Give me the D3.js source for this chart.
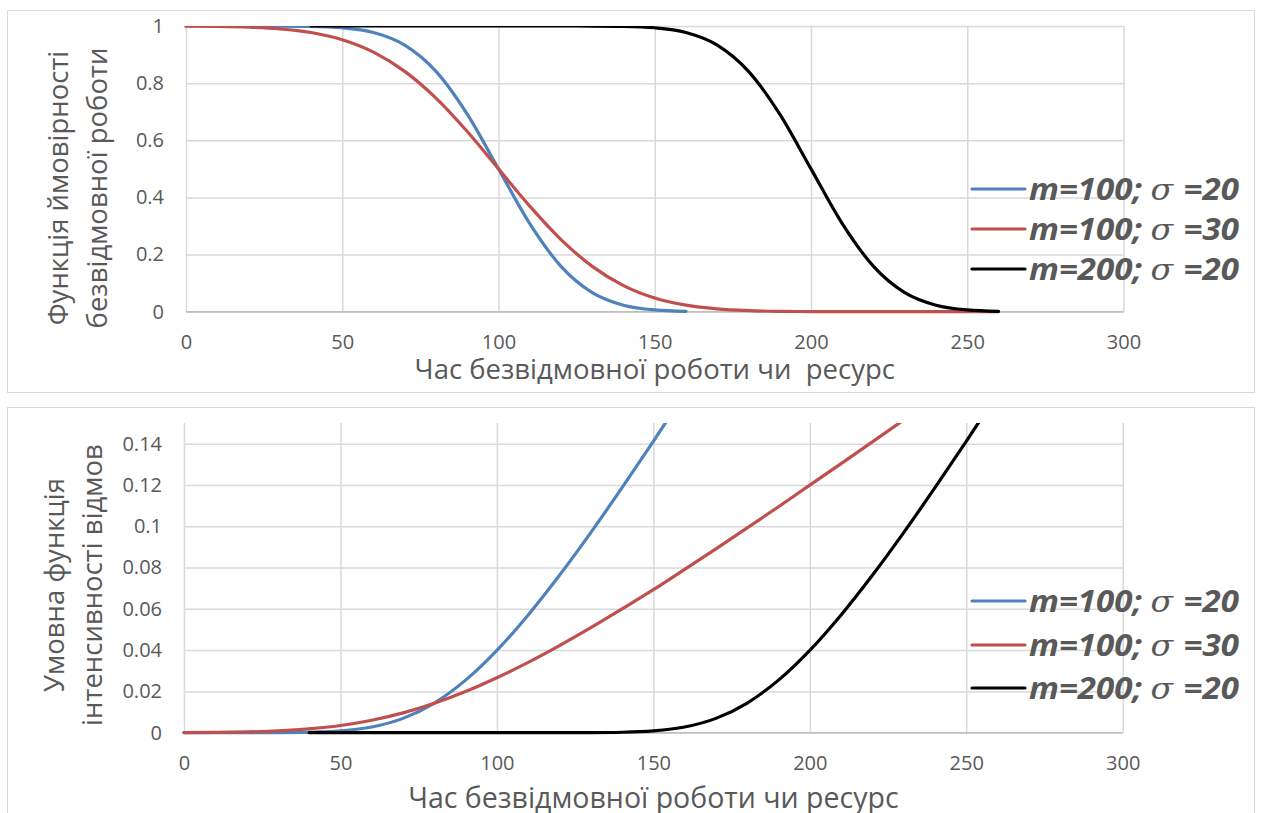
<!DOCTYPE html>
<html>
<head>
<meta charset="utf-8">
<script src="https://cdn.jsdelivr.net/npm/d3@7"></script>
<style>
  body { margin: 0; background: #fff; }
  svg { display: block; font-family: 'Open Sans', sans-serif; }
</style>
</head>
<body>
<svg id="chart" width="1261" height="813"></svg>
<script>
// x values (time) for each series
const timeBlue = [0, 10, 20, 30, 40, 50, 60, 70, 80, 90, 100, 110, 120, 130, 140, 150, 160]
const timeRed = [0, 10, 20, 30, 40, 50, 60, 70, 80, 90, 100, 110, 120, 130, 140, 150, 160, 170, 180, 190, 200, 210, 220, 230, 240, 250, 260]
const timeBlack = [40, 50, 60, 70, 80, 90, 100, 110, 120, 130, 140, 150, 160, 170, 180, 190, 200, 210, 220, 230, 240, 250, 260]

// top chart: reliability function
const relBlue = [1, 1, 1, 0.9998, 0.9987, 0.9938, 0.9773, 0.9332, 0.8413, 0.6915, 0.5, 0.3085, 0.1587, 0.0668, 0.0228, 0.0062, 0.0013]
const relRed = [0.9996, 0.9987, 0.9962, 0.9902, 0.9773, 0.9522, 0.9088, 0.8413, 0.7475, 0.6306, 0.5, 0.3694, 0.2525, 0.1587, 0.0912, 0.0478, 0.0228, 0.0098, 0.0038, 0.0013, 0.0004, 0.0001, 0, 0, 0, 0, 0]
const relBlack = [1, 1, 1, 1, 1, 1, 1, 1, 1, 0.9998, 0.9987, 0.9938, 0.9773, 0.9332, 0.8413, 0.6915, 0.5, 0.3085, 0.1587, 0.0668, 0.0228, 0.0062, 0.0013]

// bottom chart: failure rate
const hazBlue = [0, 0, 0.00001, 0.00004, 0.00022, 0.00088, 0.00276, 0.00694, 0.01438, 0.02546, 0.03989, 0.05705, 0.07625, 0.09693, 0.11866, 0.14113, 0.16415]
const hazRed = [0.00005, 0.00015, 0.00038, 0.00088, 0.00184, 0.00348, 0.00602, 0.00959, 0.01425, 0.01995, 0.0266, 0.03405, 0.04217, 0.05084, 0.05994, 0.06926, 0.07911, 0.08905, 0.09917, 0.10943, 0.11989, 0.1303, 0.14085, 0.15147, 0.16216, 0.1729, 0.1836]
const hazBlack = [0, 0, 0, 0, 0, 0, 0, 0, 0.00001, 0.00004, 0.00022, 0.00088, 0.00276, 0.00694, 0.01438, 0.02546, 0.03989, 0.05705, 0.07625, 0.09693, 0.11866, 0.14113, 0.16415]

const xTicks = [0, 50, 100, 150, 200, 250, 300]
const relTicks = [0, 0.2, 0.4, 0.6, 0.8, 1]
const hazTicks = [0, 0.02, 0.04, 0.06, 0.08, 0.1, 0.12, 0.14]
const legendLabels = ['m=100; σ=20', 'm=100; σ=30', 'm=200; σ=20']
const colors = ['#4f81bd', '#c0504d', '#000000']

const svg = d3.select('#chart')
const textColor = '#595959'
const gridColor = '#d9d9d9'

function drawPanel(p) {
  const g = svg.append('g')

  // panel border
  g.append('rect')
    .attr('x', 7.5).attr('y', p.top + 0.5)
    .attr('width', 1247).attr('height', p.height)
    .attr('fill', '#fff')
    .attr('stroke', gridColor)

  const x = d3.scaleLinear().domain([0, 300]).range([p.left, p.right])
  const y = d3.scaleLinear().domain([0, p.ymax]).range([p.bottom, p.plotTop])

  // horizontal gridlines + y labels
  const yAxis = g.append('g')
    .attr('transform', `translate(${p.left},0)`)
    .call(d3.axisLeft(y).tickValues(p.yTicks).tickSize(-(p.right - p.left)).tickPadding(22).tickFormat(d => String(d)))
  yAxis.select('.domain').remove()
  yAxis.selectAll('line').attr('stroke', gridColor).attr('stroke-width', 1.5)
  yAxis.selectAll('text').attr('fill', textColor).style('font-size', '20px').attr('font-family', 'Open Sans')

  // vertical gridlines + x labels
  const xAxis = g.append('g')
    .attr('transform', `translate(0,${p.bottom})`)
    .call(d3.axisBottom(x).tickValues(xTicks).tickSize(-(p.bottom - p.plotTop)).tickPadding(23))
  xAxis.select('.domain').remove()
  xAxis.selectAll('line').attr('stroke', gridColor).attr('stroke-width', 1.5)
  xAxis.selectAll('text').attr('fill', textColor).style('font-size', '20px').attr('font-family', 'Open Sans')

  // axis line at the bottom
  g.append('line')
    .attr('x1', p.left).attr('x2', p.right)
    .attr('y1', p.bottom).attr('y2', p.bottom)
    .attr('stroke', '#bfbfbf').attr('stroke-width', 1.5)

  const clipId = 'clip' + p.top
  g.append('clipPath').attr('id', clipId)
    .append('rect')
    .attr('x', p.left - 5).attr('y', p.plotTop)
    .attr('width', p.right - p.left + 10).attr('height', p.bottom - p.plotTop + 5)

  const line = d3.line()
    .x(d => x(d[0]))
    .y(d => y(d[1]))
    .curve(d3.curveMonotoneX)

  p.series.forEach((s, i) => {
    g.append('path')
      .datum(d3.zip(s.t, s.v))
      .attr('clip-path', `url(#${clipId})`)
      .attr('d', line)
      .attr('fill', 'none')
      .attr('stroke', colors[i])
      .attr('stroke-width', 3.2)
      .attr('stroke-linecap', 'round')
  })

  // x axis title
  g.append('text')
    .attr('x', (p.left + p.right) / 2)
    .attr('y', p.xTitleY)
    .attr('text-anchor', 'middle')
    .attr('fill', textColor)
    .style('font-size', p.titleSize + 'px')
    .style('white-space', 'pre')
    .text(p.xTitle)

  // y axis title (2 lines)
  p.yTitle.forEach((t, i) => {
    g.append('text')
      .attr('transform', `translate(${p.yTitleX[i]},${p.yTitleY}) rotate(-90)`)
      .attr('text-anchor', 'middle')
      .attr('fill', textColor)
      .style('font-size', '27.5px')
      .text(t)
  })

  // legend
  legendLabels.forEach((lab, i) => {
    const ly = p.legendY[i]
    const parts = lab.split('σ')
    g.append('line')
      .attr('x1', 972).attr('x2', 1025)
      .attr('y1', ly).attr('y2', ly)
      .attr('stroke', colors[i])
      .attr('stroke-width', 3.2)
      .attr('stroke-linecap', 'round')
    const txt = g.append('text')
      .attr('x', 1029)
      .attr('y', ly + 11)
      .attr('fill', textColor)
      .style('font-size', '30px')
      .style('font-weight', 'bold')
      .style('font-style', 'italic')
      .style('white-space', 'pre')
      .attr('textLength', 210)
      .attr('lengthAdjust', 'spacingAndGlyphs')
    txt.append('tspan').text(parts[0])
    txt.append('tspan')
      .style('font-family', 'DejaVu Serif')
      .style('font-weight', 'normal')
      .text('σ ')
    txt.append('tspan').text(parts[1])
  })
}

drawPanel({
  top: 10, height: 382,
  left: 186, right: 1123.5, bottom: 311.7, plotTop: 26,
  ymax: 1, yTicks: relTicks,
  series: [{ t: timeBlue, v: relBlue }, { t: timeRed, v: relRed }, { t: timeBlack, v: relBlack }],
  xTitle: 'Час безвідмовної роботи чи  ресурс', xTitleY: 379, titleSize: 27.5,
  yTitle: ['Функція ймовірності', 'безвідмовної роботи'], yTitleX: [68, 107], yTitleY: 188,
  legendY: [189, 229, 269]
})

drawPanel({
  top: 407, height: 430,
  left: 184, right: 1122.7, bottom: 732.7, plotTop: 423,
  ymax: 0.15, yTicks: hazTicks,
  series: [{ t: timeBlue, v: hazBlue }, { t: timeRed, v: hazRed }, { t: timeBlack, v: hazBlack }],
  xTitle: 'Час безвідмовної роботи чи ресурс', xTitleY: 808, titleSize: 28.5,
  yTitle: ['Умовна функція', 'інтенсивності відмов'], yTitleX: [64, 102], yTitleY: 585,
  legendY: [601, 645, 688]
})
</script>
</body>
</html>
